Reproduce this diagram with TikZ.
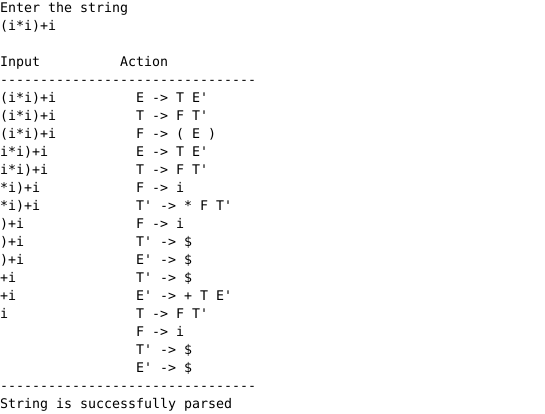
\documentclass[tikz,border=0pt]{standalone}
\usepackage{fontspec}
\newfontfamily\termfont{DejaVu Sans Mono}
\begin{document}
\begin{tikzpicture}[x=1pt,y=-1pt,
  txt/.style={anchor=base west,inner sep=0pt,outer sep=0pt,font=\termfont\fontsize{13.3}{18}\selectfont,text=black}]
\useasboundingbox[fill=white] (0,0) rectangle (545,413);
\def\bl#1{12+18*#1}
\node[txt] (l0) at (0,{\bl{0}}) {Enter the string};
\node[txt] (l1) at (0,{\bl{1}}) {(i*i)+i};
\node[txt] (hin) at (0,{\bl{3}}) {Input};
\node[txt] (hact) at (120,{\bl{3}}) {Action};
\node[txt] (d1) at (0,{\bl{4}}) {--------------------------------};
\foreach \r/\inp/\act in {5/(i*i)+i/E -> T E',6/(i*i)+i/T -> F T',7/(i*i)+i/F -> ( E ),
  8/i*i)+i/E -> T E',9/i*i)+i/T -> F T',10/*i)+i/F -> i,11/*i)+i/T' -> * F T',
  12/)+i/F -> i,13/)+i/T' -> \$,14/)+i/E' -> \$,15/+i/T' -> \$,16/+i/E' -> + T E',
  17/i/T -> F T',18//F -> i,19//T' -> \$,20//E' -> \$}{
  \node[txt] (in\r) at (0,{\bl{\r}}) {\inp};
  \node[txt] (act\r) at (136,{\bl{\r}}) {\act};
}
\node[txt] (d2) at (0,{\bl{21}}) {--------------------------------};
\node[txt] (l22) at (0,{\bl{22}}) {String is successfully parsed};
\end{tikzpicture}
\end{document}
